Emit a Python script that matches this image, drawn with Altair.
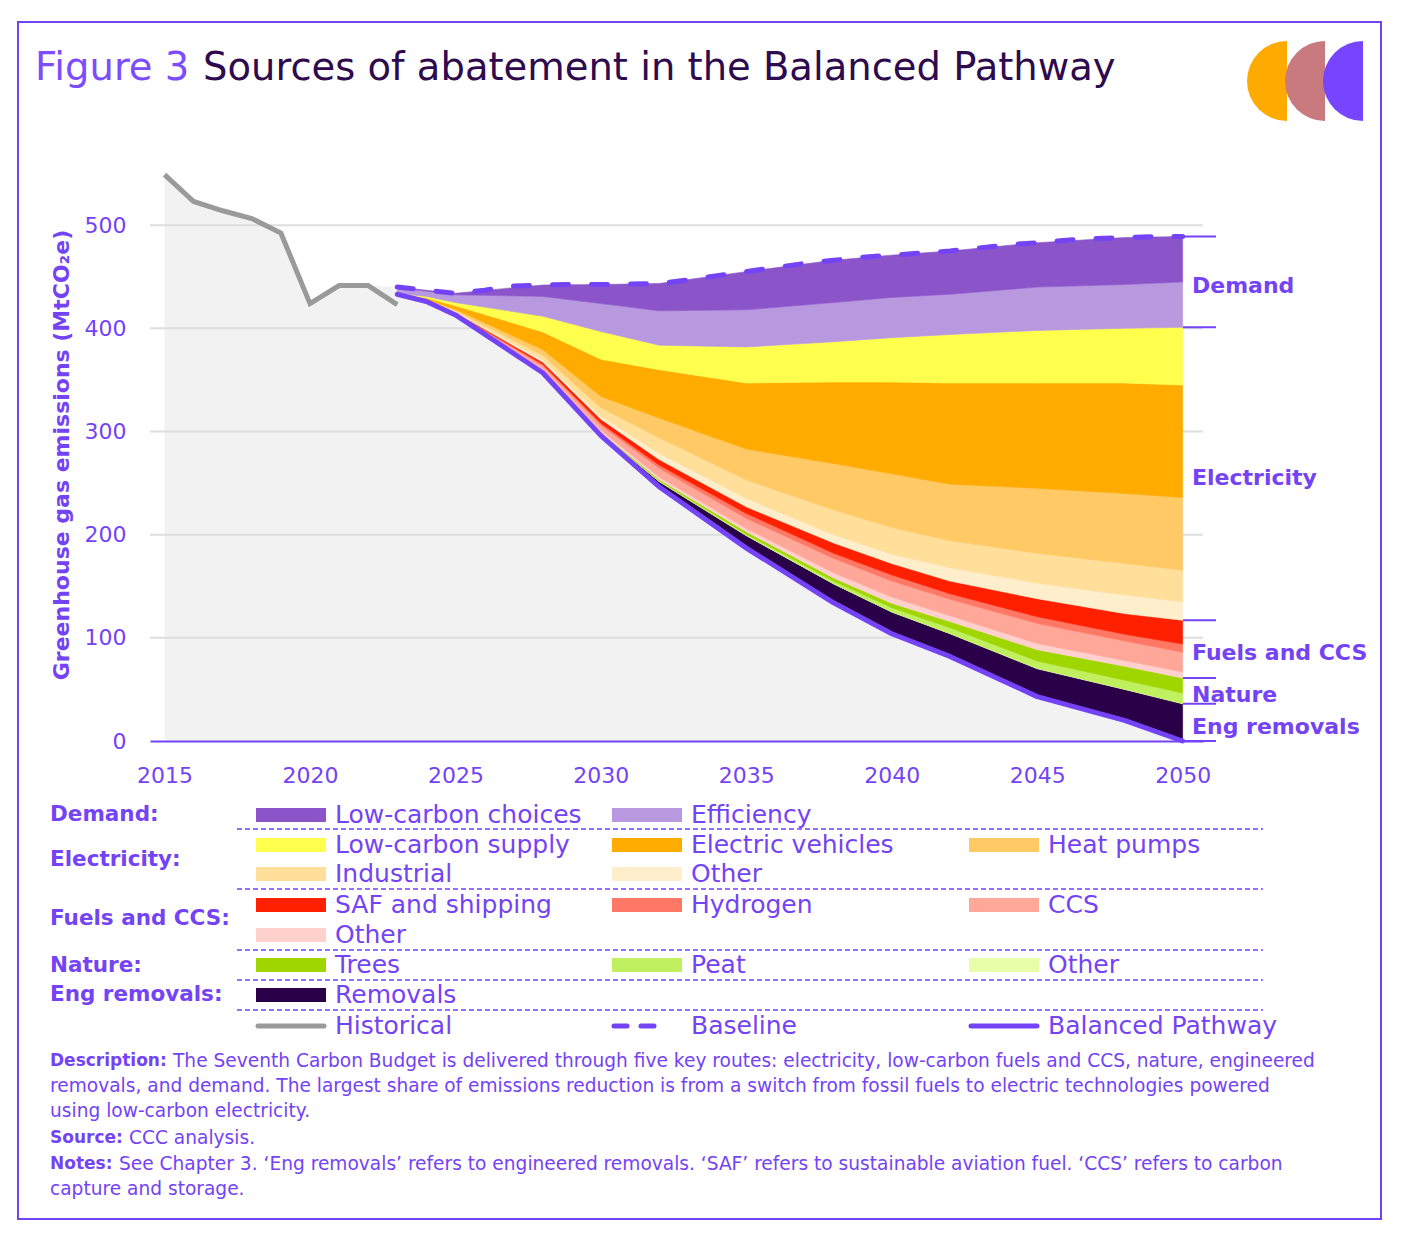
import math
import altair as alt
import pandas as pd

FONT = "DejaVu Sans"
PURPLE = "#7443f6"
TITLE_PURPLE = "#7c4dff"
TITLE_DARK = "#2d0b4e"

# ---------------- data (MtCO2e) ----------------
hist_years = [2015, 2016, 2017, 2018, 2019, 2020, 2021, 2022, 2023]
historical = [549, 523, 514, 506.5, 492.5, 424, 441.5, 441.5, 423]

baseline_years = list(range(2023, 2051))
baseline = [440, 437, 434, 437, 441, 442, 442.5, 442.5, 443, 443.5, 447, 451, 455, 459,
            463, 466, 469, 471, 473, 475, 478, 481, 483, 485.5, 487, 488, 489, 489]

years = [2023, 2024, 2025, 2028, 2030, 2032, 2035, 2038, 2040, 2042, 2045, 2048, 2050]
pathway = [433, 426, 413, 357, 296, 246.5, 187, 134, 104, 82, 43, 20, 0]

# abatement by source (stacked upward from the Balanced Pathway)
removals     = [0, 0, 0.1, 0.3, 1.8, 5, 12, 18.3, 21, 22, 27, 30, 36]
nature_other = [0, 0, 0.1, 0.2, 0.2, 0.2, 0.3, 0.2, 0.2, 0.3, 0.5, 0.5, 0.5]
peat         = [0, 0, 0.1, 0.3, 0.5, 0.8, 1.2, 2.5, 4, 5.5, 7, 8.5, 10]
trees        = [0, 0.1, 0.3, 0.5, 0.5, 1.1, 2.3, 3, 4.3, 6, 11, 13.5, 14.5]
fuels_other  = [0, 0.1, 0.4, 2, 2, 2.4, 3.2, 5, 6, 5.5, 6, 5.5, 6]
ccs          = [0, 0.2, 0.5, 3.5, 5, 8.5, 9.8, 14, 15.5, 16, 19.5, 19, 19]
hydrogen     = [0, 0.1, 0.3, 1.5, 2, 3, 4.8, 5, 6, 5.5, 6.5, 6.5, 8]
saf          = [0.1, 0.2, 0.5, 2, 4, 5.5, 6.4, 10, 11, 12.2, 17.5, 20, 23]
elec_other   = [0.1, 0.3, 0.7, 2.2, 3, 6, 8, 8, 9, 13, 15, 18, 18]
industrial   = [0.1, 0.5, 1, 4.5, 8, 15, 18, 24, 26, 26, 29, 30.5, 30.5]
heat_pumps   = [0.1, 0.5, 1.5, 5.5, 11, 19, 30, 45, 52, 55, 63, 68, 70.5]
ev           = [0.3, 1.5, 3.5, 17.1, 36, 47, 64, 79, 89, 98, 102, 107, 109]
lc_supply    = [0.3, 1.5, 3, 15.2, 27, 23.7, 35, 39, 43, 47, 51, 53, 56]
efficiency   = [5.5, 5, 7.5, 19.2, 27, 33.3, 36, 38, 39, 39, 42, 42.5, 44]
lc_choices   = [0.5, 1, 1.5, 11, 18.5, 26.5, 37, 41, 41, 42, 43, 45.5, 44]

stack_keys = ["removals", "nature_other", "peat", "trees", "fuels_other", "ccs", "hydrogen",
              "saf", "elec_other", "industrial", "heat_pumps", "ev", "lc_supply",
              "efficiency", "lc_choices"]
stack_values = [removals, nature_other, peat, trees, fuels_other, ccs, hydrogen, saf,
                elec_other, industrial, heat_pumps, ev, lc_supply, efficiency, lc_choices]
stack_colors = ["#2a0048", "#e6ffa8", "#c0f060", "#a0d600", "#ffd0cc", "#ffa799", "#ff7866",
                "#ff2000", "#ffeecc", "#ffdf9a", "#ffca66", "#ffab00", "#ffff4d",
                "#b899e0", "#8b55c9"]
color_of = dict(zip(stack_keys, stack_colors))

y_ticks = [0, 100, 200, 300, 400, 500]
x_ticks = [2015, 2020, 2025, 2030, 2035, 2040, 2045, 2050]

group_names = ["Demand", "Electricity", "Fuels and CCS", "Nature", "Eng removals"]

# ---------------- tables ----------------
rows = []
for i, yr in enumerate(years):
    lo = pathway[i]
    for key, vals in zip(stack_keys, stack_values):
        hi = lo + vals[i]
        rows.append({"year": yr, "key": key, "y0": lo, "y1": hi})
        lo = hi
stack_df = pd.DataFrame(rows)

hist_df = pd.DataFrame({"year": hist_years, "v": historical})
base_df = pd.DataFrame({"year": baseline_years, "v": baseline})
path_df = pd.DataFrame({"year": years, "v": pathway})
gray_df = pd.DataFrame({"year": hist_years[:-1] + baseline_years,
                        "v": historical[:-1] + baseline})
grid_df = pd.DataFrame({"v": y_ticks[1:]})

last = stack_df[stack_df.year == years[-1]].set_index("key")
bounds = [last.loc["lc_choices", "y1"], last.loc["efficiency", "y0"],
          last.loc["elec_other", "y0"], last.loc["fuels_other", "y0"],
          last.loc["nature_other", "y0"], pathway[-1]]
bracket_df = pd.DataFrame({"v": bounds})
label_df = pd.DataFrame({"name": group_names,
                         "v": [(bounds[i] + bounds[i + 1]) / 2 - 4 for i in range(5)]})

# ---------------- layout ----------------
W, H = 1053, 588
OX, OY = 150, 153  # plot origin on the page

xscale = alt.Scale(domain=[2014.5, 2050.7], nice=False, zero=False)
yscale = alt.Scale(domain=[0, 570], nice=False)
xaxis = alt.Axis(values=x_ticks, format="d", title=None, grid=False, ticks=False,
                 domainColor=PURPLE, domainWidth=2, labelColor=PURPLE, labelFontSize=22,
                 labelFont=FONT, labelPadding=24, zindex=1)
yaxis = alt.Axis(values=y_ticks, title=None, grid=False, ticks=False, tickSize=0, domain=False,
                 labelColor=PURPLE, labelFontSize=22, labelFont=FONT, labelPadding=24)


def Xq(f="year"):
    return alt.X(f"{f}:Q", scale=xscale, axis=xaxis)


def Yq(f="v"):
    return alt.Y(f"{f}:Q", scale=yscale, axis=yaxis)


one = pd.DataFrame({"k": [0]})


def txt(px, py, s, size, color=PURPLE, weight="normal", align="left", baseline="middle", angle=None):
    kw = dict(text=s, fontSize=size, color=color, fontWeight=weight, align=align,
              baseline=baseline, font=FONT)
    if angle is not None:
        kw["angle"] = angle
    return alt.Chart(one).mark_text(**kw).encode(x=alt.value(px - OX), y=alt.value(py - OY))


def hline(x1, x2, py, color, width, dash=None, cap="butt"):
    kw = dict(color=color, strokeWidth=width, strokeCap=cap)
    if dash:
        kw["strokeDash"] = dash
    return alt.Chart(one).mark_rule(**kw).encode(
        x=alt.value(x1 - OX), x2=alt.value(x2 - OX), y=alt.value(py - OY))


def swatch(x1, x2, yc, color, h=14):
    return alt.Chart(one).mark_rect(color=color).encode(
        x=alt.value(x1 - OX), x2=alt.value(x2 - OX),
        y=alt.value(yc - h / 2 - OY), y2=alt.value(yc + h / 2 - OY))


layers = []

# grey area under history/baseline
layers.append(alt.Chart(gray_df).mark_area(color="#f2f2f2").encode(x=Xq(), y=Yq()))
# grid lines
layers.append(alt.Chart(grid_df).mark_rule(color="#dedede", strokeWidth=2).encode(
    x=alt.value(0), x2=alt.value(W), y=Yq()))
# stacked abatement areas
layers.append(alt.Chart(stack_df).mark_area(strokeWidth=0.6).encode(
    x=Xq(), y=Yq("y0"), y2="y1:Q",
    color=alt.Color("key:N", scale=alt.Scale(domain=stack_keys, range=stack_colors), legend=None),
    stroke=alt.Stroke("key:N", scale=alt.Scale(domain=stack_keys, range=stack_colors), legend=None)))
# lines
layers.append(alt.Chart(hist_df).mark_line(color="#9a9a9a", strokeWidth=5).encode(x=Xq(), y=Yq()))
layers.append(alt.Chart(base_df).mark_line(color=PURPLE, strokeWidth=5, strokeDash=[16, 23],
                                           strokeCap="round").encode(x=Xq(), y=Yq()))
layers.append(alt.Chart(path_df).mark_line(color=PURPLE, strokeWidth=5, strokeCap="round",
                                           strokeJoin="round").encode(x=Xq(), y=Yq()))
# right-hand brackets and group labels
layers.append(alt.Chart(bracket_df).mark_rule(color=PURPLE, strokeWidth=2).encode(
    x=alt.value(1183 - OX), x2=alt.value(1216 - OX), y=Yq()))
layers.append(alt.Chart(label_df).mark_text(align="left", baseline="middle", fontSize=22,
                                            fontWeight="bold", color=PURPLE, font=FONT).encode(
    x=alt.value(1192 - OX), y=Yq(), text="name:N"))

# y axis title
layers.append(txt(62, 455, "Greenhouse gas emissions (MtCO\u2082e)", 22, weight="bold",
                  align="center", angle=270))

# title
layers.append(txt(35, 80, "Figure 3", 38.5, color=TITLE_PURPLE, baseline="alphabetic"))
layers.append(txt(203, 80, "Sources of abatement in the Balanced Pathway", 38.5, color=TITLE_DARK,
                  baseline="alphabetic"))

# logo
for cx, col in [(1287, "#ffaa00"), (1325, "#c97a7e"), (1363, "#7744ff")]:
    layers.append(alt.Chart(one).mark_arc(radius=40, theta=math.pi, theta2=2 * math.pi,
                                          color=col).encode(
        x=alt.value(cx - OX), y=alt.value(81 - OY)))

# legend
LS = 25
sw_x = [256, 612, 969]
tx_x = [335, 691, 1048]
legend_rows = [
    (815, [(0, "lc_choices", "Low-carbon choices"), (1, "efficiency", "Efficiency")]),
    (845, [(0, "lc_supply", "Low-carbon supply"), (1, "ev", "Electric vehicles"),
           (2, "heat_pumps", "Heat pumps")]),
    (874, [(0, "industrial", "Industrial"), (1, "elec_other", "Other")]),
    (905, [(0, "saf", "SAF and shipping"), (1, "hydrogen", "Hydrogen"), (2, "ccs", "CCS")]),
    (935, [(0, "fuels_other", "Other")]),
    (965, [(0, "trees", "Trees"), (1, "peat", "Peat"), (2, "nature_other", "Other")]),
    (995, [(0, "removals", "Removals")]),
]
for yc, items in legend_rows:
    for c, key, label in items:
        layers.append(swatch(sw_x[c], sw_x[c] + 70, yc, color_of[key]))
        layers.append(txt(tx_x[c], yc, label, LS))

group_labels = [("Demand:", 815), ("Electricity:", 860), ("Fuels and CCS:", 919),
                ("Nature:", 966), ("Eng removals:", 995)]
for s, yc in group_labels:
    layers.append(txt(50, yc, s, 21.5, weight="bold"))

for ys in [829, 889, 950, 980, 1010]:
    layers.append(hline(237, 1263, ys, PURPLE, 1.5, dash=[5, 3]))

# line legend
layers.append(hline(258, 324, 1026, "#9a9a9a", 5, cap="round"))
layers.append(txt(335, 1026, "Historical", LS))
layers.append(hline(614, 654, 1026, PURPLE, 5, dash=[13, 14], cap="round"))
layers.append(txt(691, 1026, "Baseline", LS))
layers.append(hline(971, 1037, 1026, PURPLE, 5, cap="round"))
layers.append(txt(1048, 1026, "Balanced Pathway", LS))

# description / source / notes
BS = 17
DS = 18.6
layers.append(txt(50, 1061, "Description:", BS, weight="bold"))
layers.append(txt(173, 1061, "The Seventh Carbon Budget is delivered through five key routes: electricity, "
                             "low-carbon fuels and CCS, nature, engineered", DS))
layers.append(txt(50, 1086, "removals, and demand. The largest share of emissions reduction is from a switch "
                            "from fossil fuels to electric technologies powered", DS))
layers.append(txt(50, 1111, "using low-carbon electricity.", DS))
layers.append(txt(50, 1138, "Source:", BS, weight="bold"))
layers.append(txt(129, 1138, "CCC analysis.", DS))
layers.append(txt(50, 1164, "Notes:", BS, weight="bold"))
layers.append(txt(119, 1164, "See Chapter 3. \u2018Eng removals\u2019 refers to engineered removals. "
                             "\u2018SAF\u2019 refers to sustainable aviation fuel. \u2018CCS\u2019 refers to carbon", DS))
layers.append(txt(50, 1189, "capture and storage.", DS))

# outer frame
layers.append(alt.Chart(one).mark_rect(filled=False, stroke=PURPLE, strokeWidth=2).encode(
    x=alt.value(18 - OX), x2=alt.value(1381 - OX), y=alt.value(22 - OY), y2=alt.value(1219 - OY)))

chart = alt.layer(*layers).properties(
    width=W, height=H,
    padding={"left": 142, "top": 145, "right": 193, "bottom": 480},
    autosize=alt.AutoSizeParams(type="none"),
    background="white",
).configure(font=FONT).configure_view(strokeWidth=0, stroke=None)

chart.save("out.html", embed_options={"renderer": "svg", "actions": False})
